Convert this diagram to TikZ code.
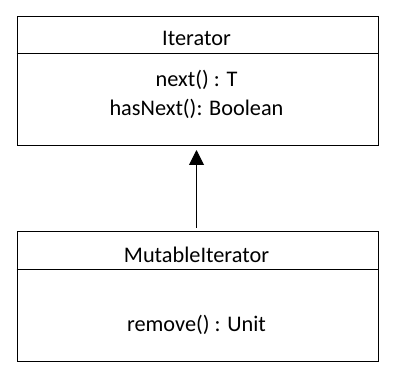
\documentclass[tikz,border=0pt]{standalone}
\usepackage{fontspec}
\setmainfont{Carlito}
\usetikzlibrary{arrows.meta}
\begin{document}
\begin{tikzpicture}[x=1pt,y=-1pt,
  classbox/.style={draw,line width=1pt,minimum width=361pt,inner sep=0pt,anchor=north west},
  txt/.style={font=\fontsize{22.3}{25}\selectfont,inner sep=0pt},
  sep/.style={line width=1pt},
  inherit/.style={line width=1pt,-{Triangle[width=15pt,length=15pt]}}]
\useasboundingbox (0,0) rectangle (394,379);
\node[classbox,minimum height=129pt] (it) at (16.5,16.5) {};
\node[classbox,minimum height=129.5pt] (mit) at (16.5,231.5) {};
\coordinate (ith) at (16.5,53.5);
\coordinate (mith) at (16.5,270);
\draw[sep] (ith) -- (ith -| it.east);
\draw[sep] (mith) -- (mith -| mit.east);
\node[txt] (itname) at (196.5,38) {Iterator};
\node[txt] (m1) at (196.5,80) {next() : T};
\node[txt] (m2) at (196.5,109) {hasNext(): Boolean};
\node[txt] (mitname) at (196.5,255) {MutableIterator};
\node[txt] (m3) at (196.5,325) {remove() : Unit};
\coordinate (tip) at (196.5,150);
\coordinate (tail) at (196.5,228);
\draw[inherit] (tail) -- (tip);
\end{tikzpicture}
\end{document}
